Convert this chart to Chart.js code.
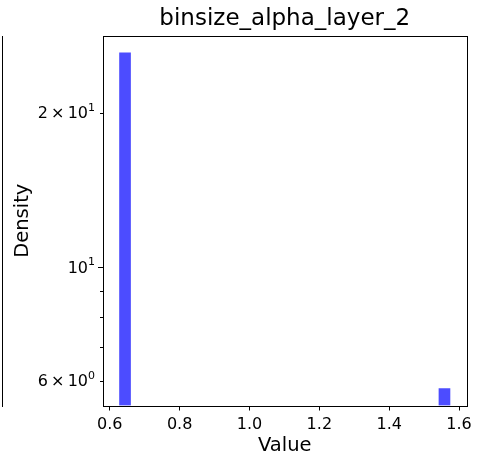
<!DOCTYPE html>
<html>
<head>
<meta charset="utf-8">
<script src="https://cdn.jsdelivr.net/npm/chart.js@4/dist/chart.umd.min.js"></script>
<style>
  html, body { margin: 0; padding: 0; background: #fff; }
  #wrap { width: 477px; height: 458px; }
</style>
</head>
<body>
<div id="wrap"><canvas id="c" width="477" height="458"></canvas></div>
<script>
// Histogram of binsize_alpha_layer_2 (density, log y axis)
const valueRange = [0.628, 1.574];   // smallest and largest observed value
const binCount = 30;
const densities = [26.2, 0, 0, 0, 0, 0, 0, 0, 0, 0,
                   0, 0, 0, 0, 0, 0, 0, 0, 0, 0,
                   0, 0, 0, 0, 0, 0, 0, 0, 0, 5.8];
const xTicks = [0.6, 0.8, 1.0, 1.2, 1.4, 1.6];
const yTicks = [6, 10, 20];
const yTickMantissas = ['6\u2009×\u2009', '', '2\u2009×\u2009'];
const yTickExponents = ['0', '1', '1'];
const yMajorTicks = [10];
const yMinorTicks = [6, 7, 8, 9, 20];
const chartTitle = 'binsize_alpha_layer_2';
const xLabel = 'Value';
const yLabel = 'Density';

// bin edges -> bar centres
const binWidth = (valueRange[1] - valueRange[0]) / binCount;
const points = densities.map((d, i) => ({
  x: valueRange[0] + binWidth * (i + 0.5),
  y: d > 0 ? d : null
}));

// 5% margins like the usual autoscaling
const xSpan = valueRange[1] - valueRange[0];
const xMin = valueRange[0] - 0.05 * xSpan;
const xMax = valueRange[1] + 0.05 * xSpan;
const nonZero = densities.filter(d => d > 0);
const lMin = Math.log10(Math.min(...nonZero));
const lMax = Math.log10(Math.max(...nonZero));
const lPad = 0.05 * (lMax - lMin);
const yMin = Math.pow(10, lMin - lPad);
const yMax = Math.pow(10, lMax + lPad);

const FONT = "'DejaVu Sans', sans-serif";
const TICK_SIZE = 16;
const SUP_SIZE = 11;

// frame around the plot area, y ticks with power-of-ten labels,
// and the edge of the neighbouring panel
const framePlugin = {
  id: 'frame',
  afterDraw(chart) {
    const { ctx, chartArea: a, scales } = chart;
    const left = Math.round(a.left);
    ctx.save();
    ctx.strokeStyle = '#000';
    ctx.lineWidth = 1;
    ctx.strokeRect(left + 0.5, Math.round(a.top) + 0.5,
                   Math.round(a.right - a.left), Math.round(a.bottom - a.top));
    ctx.beginPath();
    ctx.moveTo(2.5, Math.round(a.top));
    ctx.lineTo(2.5, Math.round(a.bottom) + 1);
    ctx.stroke();

    const y = scales.y;
    const drawTick = (v, len) => {
      const py = Math.round(y.getPixelForValue(v)) + 0.5;
      ctx.beginPath();
      ctx.moveTo(left, py);
      ctx.lineTo(left - len, py);
      ctx.stroke();
    };
    yMajorTicks.forEach(v => drawTick(v, 5));
    yMinorTicks.forEach(v => drawTick(v, 3));

    ctx.fillStyle = '#000';
    ctx.textAlign = 'right';
    ctx.textBaseline = 'middle';
    const xRight = left - 8;
    yTicks.forEach((v, i) => {
      const py = y.getPixelForValue(v) + 1;
      ctx.font = SUP_SIZE + 'px ' + FONT;
      ctx.fillText(yTickExponents[i], xRight, py - 6);
      const supW = ctx.measureText(yTickExponents[i]).width;
      ctx.font = TICK_SIZE + 'px ' + FONT;
      ctx.fillText(yTickMantissas[i] + '10', xRight - supW, py);
    });
    ctx.restore();
  }
};

new Chart(document.getElementById('c'), {
  type: 'bar',
  data: {
    datasets: [{
      data: points,
      backgroundColor: 'rgba(0, 0, 255, 0.7)',
      borderWidth: 0,
      barPercentage: 1,
      categoryPercentage: 1
    }]
  },
  options: {
    responsive: false,
    animation: false,
    devicePixelRatio: 1,
    layout: { padding: { left: 0, right: 9, top: 0, bottom: 0 } },
    plugins: {
      legend: { display: false },
      tooltip: { enabled: false },
      title: {
        display: true,
        text: chartTitle,
        fullSize: false,
        color: '#000',
        font: { family: FONT, size: 23, weight: 'normal' },
        padding: { top: 5, bottom: 3.4 }
      }
    },
    scales: {
      x: {
        type: 'linear',
        offset: false,
        min: xMin,
        max: xMax,
        afterBuildTicks(scale) { scale.ticks = xTicks.map(v => ({ value: v })); },
        afterFit(scale) { scale.height = 52.5; },
        ticks: {
          color: '#000',
          font: { family: FONT, size: TICK_SIZE },
          padding: 5,
          maxRotation: 0,
          callback: v => v.toFixed(1)
        },
        grid: { drawOnChartArea: false, offset: false, tickLength: 5, color: '#000' },
        border: { display: false },
        title: {
          display: true,
          text: xLabel,
          color: '#000',
          font: { family: FONT, size: 19.5 },
          padding: { top: 0, bottom: 0 }
        }
      },
      y: {
        type: 'logarithmic',
        min: yMin,
        max: yMax,
        afterBuildTicks(scale) { scale.ticks = yTicks.map(v => ({ value: v })); },
        afterFit(scale) { scale.width = 103; },
        ticks: { display: false },
        grid: { drawOnChartArea: false, drawTicks: false },
        border: { display: false },
        title: {
          display: true,
          text: yLabel,
          color: '#000',
          font: { family: FONT, size: 19.5 },
          padding: { top: 11, bottom: 0 }
        }
      }
    }
  },
  plugins: [framePlugin]
});
</script>
</body>
</html>
